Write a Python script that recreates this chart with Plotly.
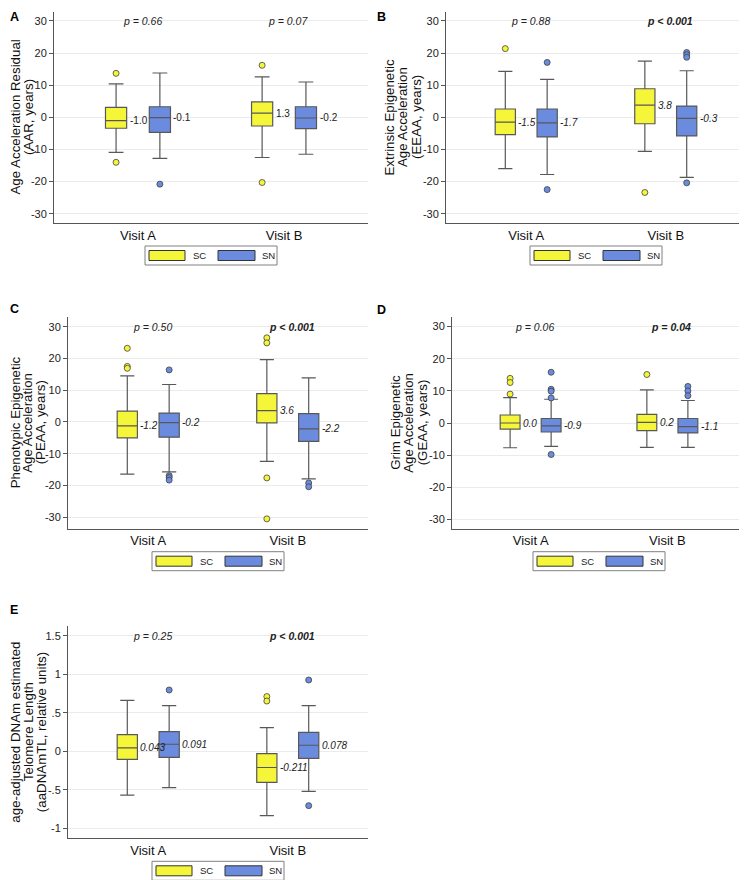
import plotly.graph_objects as go

# ---------------- data ----------------
visits = ["Visit A", "Visit B"]
groups = ["SC", "SN"]
# order of every stat list: [SC Visit A, SN Visit A, SC Visit B, SN Visit B]

A_low = [-10.9, -12.8, -12.5, -11.5]
A_q1 = [-3.4, -4.7, -2.7, -3.5]
A_med = [-1.0, -0.1, 1.3, -0.2]
A_q3 = [3.1, 3.3, 4.8, 3.3]
A_high = [10.4, 13.8, 12.6, 11.0]
A_out = [[13.7, -14.0], [-20.8], [16.2, -20.3], []]
A_p = ["p = 0.66", "p = 0.07"]
A_sig = [False, False]

B_low = [-16.0, -17.8, -10.6, -18.7]
B_q1 = [-5.4, -6.1, -2.0, -5.8]
B_med = [-1.5, -1.7, 3.8, -0.3]
B_q3 = [2.6, 2.6, 8.9, 3.5]
B_high = [14.3, 11.8, 17.5, 14.5]
B_out = [[21.4], [17.1, -22.5], [-23.4], [20.2, 19.5, 18.7, -20.4]]
B_p = ["p = 0.88", "p < 0.001"]
B_sig = [False, True]

C_low = [-16.4, -15.7, -12.4, -17.9]
C_q1 = [-5.0, -4.8, -0.3, -6.1]
C_med = [-1.2, -0.2, 3.6, -2.2]
C_q3 = [3.4, 2.8, 8.9, 2.6]
C_high = [14.5, 11.8, 19.6, 13.9]
C_out = [[23.2, 17.5, 16.9], [16.4, -16.9, -17.5, -18.3],
         [26.5, 24.9, -17.6, -30.5], [-19.2, -20.4]]
C_p = ["p = 0.50", "p < 0.001"]
C_sig = [False, True]

D_low = [-7.7, -7.3, -7.6, -7.6]
D_q1 = [-1.9, -2.8, -2.4, -3.1]
D_med = [0.0, -0.9, 0.2, -1.1]
D_q3 = [2.5, 1.4, 2.7, 1.4]
D_high = [7.9, 7.4, 10.3, 7.0]
D_out = [[13.9, 12.6, 9.0], [15.8, 10.5, 9.9, 7.8, -9.8], [15.1], [11.4, 10.0, 8.5]]
D_p = ["p = 0.06", "p = 0.04"]
D_sig = [False, True]

E_low = [-0.57, -0.472, -0.836, -0.52]
E_q1 = [-0.105, -0.079, -0.403, -0.092]
E_med = [0.043, 0.091, -0.211, 0.078]
E_q3 = [0.215, 0.254, -0.031, 0.246]
E_high = [0.66, 0.592, 0.306, 0.592]
E_out = [[], [0.795], [0.71, 0.652], [0.925, -0.706]]
E_p = ["p = 0.25", "p < 0.001"]
E_sig = [False, True]

AD_ticks = [-30, -20, -10, 0, 10, 20, 30]
AD_ticktext = ["-30", "-20", "-10", "0", "10", "20", "30"]
E_ticks = [-1, -0.5, 0, 0.5, 1, 1.5]
E_ticktext = ["-1", "-.5", "0", ".5", "1", "1.5"]

A_title = ["Age Acceleration Residual", "(AAR, years)"]
B_title = ["Extrinsic Epigenetic", "Age Acceleration", "(EEAA, years)"]
C_title = ["Phenotypic Epigenetic", "Age Acceleration", "(PEAA, years)"]
D_title = ["Grim Epigenetic", "Age Acceleration", "(GEAA, years)"]
E_title = ["age-adjusted DNAm estimated", "Telomere Length", "(aaDNAmTL, relative units)"]

# ---------------- styles ----------------
PAGE = 8  # default body margin of the html page
W, H = 747 - PAGE, 880 - PAGE
FONT = "Liberation Sans, Arial, sans-serif"
FILLS = {"SC": "#F5F53A", "SN": "#6A8BDE"}
LINE = "#585858"
OFF = 0.15
BW = 0.145


def fx(px):
    return (px - PAGE) / W


def fy(py):
    return 1 - (py - PAGE) / H


panels = [
    dict(letter="A", low=A_low, q1=A_q1, med=A_med, q3=A_q3, high=A_high, out=A_out,
         p=A_p, sig=A_sig, ticks=AD_ticks, ticktext=AD_ticktext, title=A_title,
         fmt="{:.1f}", italic=False,
         x0=54, x1=368, y0=12, y1=223, yr=[-32.9, 32.8],
         tx=[15, 28.5], lx=5, ly=3),
    dict(letter="B", low=B_low, q1=B_q1, med=B_med, q3=B_q3, high=B_high, out=B_out,
         p=B_p, sig=B_sig, ticks=AD_ticks, ticktext=AD_ticktext, title=B_title,
         fmt="{:.1f}", italic=True,
         x0=446, x1=746, y0=12, y1=223, yr=[-32.9, 32.8],
         tx=[389, 402.5, 416.5], lx=375, ly=3),
    dict(letter="C", low=C_low, q1=C_q1, med=C_med, q3=C_q3, high=C_high, out=C_out,
         p=C_p, sig=C_sig, ticks=AD_ticks, ticktext=AD_ticktext, title=C_title,
         fmt="{:.1f}", italic=True,
         x0=68, x1=368, y0=317, y1=528.7, yr=[-33.6, 33.05],
         tx=[15.5, 28, 40.5], lx=5, ly=300),
    dict(letter="D", low=D_low, q1=D_q1, med=D_med, q3=D_q3, high=D_high, out=D_out,
         p=D_p, sig=D_sig, ticks=AD_ticks, ticktext=AD_ticktext, title=D_title,
         fmt="{:.1f}", italic=True,
         x0=452, x1=746, y0=317, y1=528.7, yr=[-32.9, 33.0],
         tx=[396, 409, 422.5], lx=375, ly=301),
    dict(letter="E", low=E_low, q1=E_q1, med=E_med, q3=E_q3, high=E_high, out=E_out,
         p=E_p, sig=E_sig, ticks=E_ticks, ticktext=E_ticktext, title=E_title,
         fmt="{:.3f}", italic=True,
         x0=68, x1=368, y0=626, y1=838.3, yr=[-1.13, 1.626],
         tx=[15.5, 28, 41], lx=5, ly=601),
]

fig = go.Figure()
annotations = []
shapes = []
layout = {}

for i, P in enumerate(panels):
    suf = "" if i == 0 else str(i + 1)
    xr, yr = "x" + suf, "y" + suf
    for k in range(4):
        v, g = k // 2, k % 2
        grp = groups[g]
        pos = v + (-OFF if g == 0 else OFF)
        fig.add_trace(go.Box(
            x=[pos], q1=[P["q1"][k]], median=[P["med"][k]], q3=[P["q3"][k]],
            lowerfence=[P["low"][k]], upperfence=[P["high"][k]],
            width=BW, whiskerwidth=0.7, boxpoints=False,
            fillcolor=FILLS[grp], line=dict(color=LINE, width=1.2),
            xaxis=xr, yaxis=yr, showlegend=False, hoverinfo="skip", name=grp))
        if P["out"][k]:
            fig.add_trace(go.Scatter(
                x=[pos] * len(P["out"][k]), y=P["out"][k], mode="markers",
                marker=dict(size=6, color=FILLS[grp], line=dict(color="#404040", width=0.8)),
                xaxis=xr, yaxis=yr, showlegend=False, hoverinfo="skip"))
        txt = P["fmt"].format(P["med"][k])
        if P["italic"]:
            txt = "<i>" + txt + "</i>"
        annotations.append(dict(
            x=pos + BW / 2, y=P["med"][k], xref=xr, yref=yr, text=txt,
            showarrow=False, xanchor="left", yanchor="middle", xshift=1,
            font=dict(family=FONT, size=10, color="#222")))
    # p-values
    for v in range(2):
        t = "<i>" + P["p"][v] + "</i>"
        if P["sig"][v]:
            t = "<b>" + t + "</b>"
        annotations.append(dict(
            x=v + 0.03, y=P["ticks"][-1], xref=xr, yref=yr, text=t, showarrow=False,
            xanchor="center", yanchor="middle",
            font=dict(family=FONT, size=10.5, color="#222")))
    # axes
    layout["xaxis" + suf] = dict(
        domain=[fx(P["x0"]), min(1.0, fx(P["x1"]))], range=[-0.575, 1.575],
        tickvals=[0, 1], ticktext=visits, showgrid=False, zeroline=False,
        showline=True, linecolor="#555", linewidth=1, ticks="",
        tickfont=dict(family=FONT, size=13, color="#111"), anchor=yr, fixedrange=True)
    layout["yaxis" + suf] = dict(
        domain=[fy(P["y1"]), fy(P["y0"])], range=P["yr"],
        tickvals=P["ticks"], ticktext=P["ticktext"], showgrid=True,
        gridcolor="#EBEBEB", gridwidth=1, zeroline=False, showline=True,
        linecolor="#555", linewidth=1, ticks="outside", ticklen=4, tickcolor="#555",
        tickfont=dict(family=FONT, size=11, color="#222"), anchor=xr, fixedrange=True)
    # y title lines
    cy = (P["y0"] + P["y1"]) / 2
    for line_txt, lx in zip(P["title"], P["tx"]):
        annotations.append(dict(
            x=fx(lx), y=fy(cy), xref="paper", yref="paper", text=line_txt,
            textangle=-90, showarrow=False, xanchor="center", yanchor="middle",
            font=dict(family=FONT, size=13.3, color="#111")))
    # panel letter
    annotations.append(dict(
        x=fx(max(P["lx"], PAGE)), y=fy(max(P["ly"], PAGE)), xref="paper", yref="paper",
        text="<b>" + P["letter"] + "</b>", showarrow=False, xanchor="left",
        yanchor="top", font=dict(family=FONT, size=12.5, color="#000")))
    # legend (manual)
    cx = (P["x0"] + P["x1"]) / 2
    top = P["y1"] + 23
    bot = top + 19
    shapes.append(dict(type="rect", xref="paper", yref="paper",
                       x0=fx(cx - 66), x1=fx(cx + 66), y0=fy(bot), y1=fy(top),
                       line=dict(color="#808080", width=1), fillcolor="white"))
    mid = (top + bot) / 2
    for g, (sx0, sx1, tx0) in enumerate([(-62, -26, -20), (7, 44, 49)]):
        shapes.append(dict(type="rect", xref="paper", yref="paper",
                           x0=fx(cx + sx0), x1=fx(cx + sx1),
                           y0=fy(mid + 5), y1=fy(mid - 5),
                           line=dict(color="#333", width=1), fillcolor=FILLS[groups[g]]))
        annotations.append(dict(
            x=fx(cx + tx0), y=fy(mid), xref="paper", yref="paper", text=groups[g],
            showarrow=False, xanchor="left", yanchor="middle",
            font=dict(family=FONT, size=9.5, color="#222")))

fig.update_layout(
    width=W, height=H, margin=dict(l=0, r=0, t=0, b=0),
    paper_bgcolor="white", plot_bgcolor="white", showlegend=False,
    boxmode="overlay", annotations=annotations, shapes=shapes, **layout)

fig.write_html("out.html")
